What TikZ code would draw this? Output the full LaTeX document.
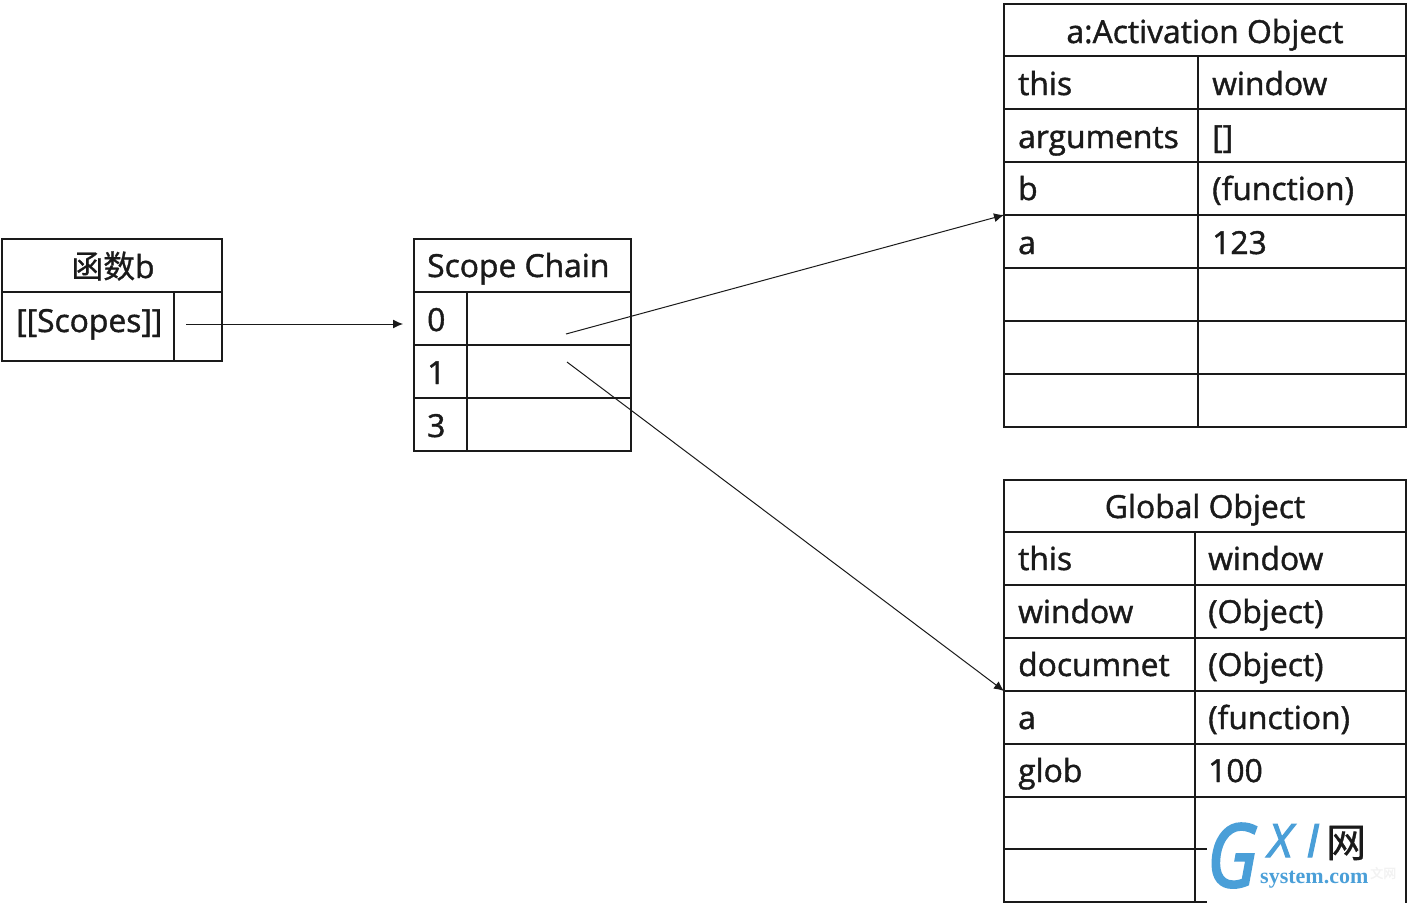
\documentclass[tikz,border=0pt]{standalone}
\usepackage{fontspec}
\setmainfont{Open Sans}[RawFeature={embolden=1.3}]
\newfontfamily\cjk{Noto Sans CJK SC}[RawFeature={embolden=0.8}]
\newfontfamily\wmserif{Liberation Serif}
\newfontfamily\wmsans{Open Sans}[RawFeature={embolden=2.5}]
\newfontfamily\wmnarrow{Open Sans}[FakeStretch=0.84,RawFeature={embolden=2.5}]
\usetikzlibrary{arrows.meta}
\definecolor{wmblue}{HTML}{4A9FD8}
\definecolor{ink}{HTML}{1A1A1A}
\tikzset{
  cell/.style={draw=ink,line width=1.6pt,anchor=north west,inner sep=0pt,outer sep=0pt},
  txt/.style={anchor=base west,inner sep=0pt,font=\fontsize{31.8}{32}\selectfont,text=ink},
  ctr/.style={anchor=base,inner sep=0pt,font=\fontsize{31.8}{32}\selectfont,text=ink},
  link/.style={draw=ink,line width=1pt,-{Latex[length=10pt,width=9pt]},shorten >=0pt},
}
% cell: name, x1, y1, x2, y2
\newcommand{\mycell}[5]{\node[cell,minimum width=#4pt-#2pt,minimum height=#5pt-#3pt] (#1) at (#2,#3) {};}
\begin{document}
\begin{tikzpicture}[x=1pt,y=-1pt]
\useasboundingbox (0,0) rectangle (1407,906);
% function b
\mycell{fh}{2}{239}{222}{292}
\mycell{fa}{2}{292}{174}{361}
\mycell{fb}{174}{292}{222}{361}
\node[ctr] (ft) at (113,278) {{\cjk 函数}b};
\node[txt] (fs) at (16,332) {[[Scopes]]};
% scope chain
\mycell{sh}{414}{239}{631}{292}
\mycell{s0a}{414}{292}{467}{345}
\mycell{s0b}{467}{292}{631}{345}
\mycell{s1a}{414}{345}{467}{398}
\mycell{s1b}{467}{345}{631}{398}
\mycell{s2a}{414}{398}{467}{451}
\mycell{s2b}{467}{398}{631}{451}
\node[txt] (st) at (427,277) {Scope Chain};
\node[txt] (s0t) at (427,331) {0};
\node[txt] (s1t) at (427,384) {1};
\node[txt] (s2t) at (427,437) {3};
% activation object
\mycell{ah}{1004}{4}{1406}{56}
\foreach \n/\ya/\yb in {1/56/109,2/109/162,3/162/215,4/215/268,5/268/321,6/321/374,7/374/427}{
  \mycell{a\n l}{1004}{\ya}{1198}{\yb}
  \mycell{a\n r}{1198}{\ya}{1406}{\yb}
}
\node[ctr] (at) at (1205,43) {a:Activation Object};
\node[txt] (a1a) at (1018,95) {this};
\node[txt] (a1b) at (1212,95) {window};
\node[txt] (a2a) at (1018,148) {arguments};
\node[txt] (a2b) at (1212,148) {[]};
\node[txt] (a3a) at (1018,200) {b};
\node[txt] (a3b) at (1212,200) {(function)};
\node[txt] (a4a) at (1018,254) {a};
\node[txt] (a4b) at (1212,254) {123};
% global object
\mycell{gh}{1004}{480}{1406}{532}
\foreach \n/\ya/\yb in {1/532/585,2/585/638,3/638/691,4/691/744,5/744/797,6/797/849,7/849/902}{
  \mycell{g\n l}{1004}{\ya}{1195}{\yb}
  \mycell{g\n r}{1195}{\ya}{1406}{\yb}
}
\node[ctr] (gt) at (1205,518) {Global Object};
\node[txt] (g1a) at (1018,570) {this};
\node[txt] (g1b) at (1208,570) {window};
\node[txt] (g2a) at (1018,623) {window};
\node[txt] (g2b) at (1208,623) {(Object)};
\node[txt] (g3a) at (1018,676) {documnet};
\node[txt] (g3b) at (1208,676) {(Object)};
\node[txt] (g4a) at (1018,729) {a};
\node[txt] (g4b) at (1208,729) {(function)};
\node[txt] (g5a) at (1018,782) {glob};
\node[txt] (g5b) at (1208,782) {100};
% connectors
\coordinate (c1) at (186,324);
\coordinate (c2) at (403,324);
\coordinate (c3) at (566,334);
\coordinate (c4) at (567,362);
\draw[link] (c1) -- (c2);
\draw[link] (c3) -- (a3l.south west);
\draw[link] (c4) -- (g3l.south west);
% watermark
\fill[white] (1207,806) rectangle (1405,904);
\node[anchor=base west,inner sep=0pt,text=black!5,font=\cjk\fontsize{13}{13}\selectfont] (wm0) at (1370,878) {文网};
\node[anchor=base west,inner sep=0pt,text=wmblue,font=\wmnarrow\fontsize{88}{88}\selectfont\itshape] (wm1) at (1207,887) {G};
\node[anchor=base west,inner sep=0pt,text=wmblue,font=\wmsans\fontsize{46}{46}\selectfont\itshape] (wm2) at (1268,857) {X};
\node[anchor=base west,inner sep=0pt,text=wmblue,font=\wmsans\fontsize{46}{46}\selectfont\itshape] (wm3) at (1306,857) {I};
\node[anchor=base west,inner sep=0pt,text=ink,font=\cjk\fontsize{40}{40}\selectfont] (wm4) at (1326,857) {网};
\node[anchor=base west,inner sep=0pt,text=wmblue,font=\wmserif\bfseries\fontsize{22}{22}\selectfont] (wm5) at (1260,883) {system.com};
\end{tikzpicture}
\end{document}
